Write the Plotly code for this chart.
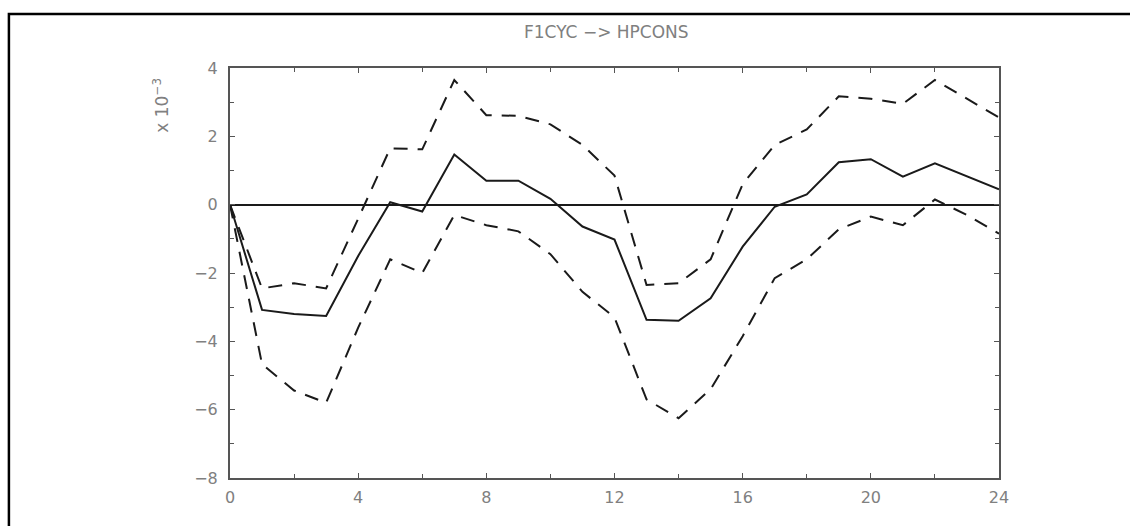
import plotly.graph_objects as go

# Impulse response horizon (periods)
horizon = list(range(25))

# Point estimate of the response, in units of 1e-3
response = [0.0, -3.08, -3.2, -3.26, -1.5, 0.07, -0.2, 1.47, 0.7, 0.7, 0.17,
            -0.64, -1.02, -3.37, -3.4, -2.74, -1.23, -0.06, 0.3, 1.24, 1.33,
            0.82, 1.21, 0.83, 0.45]

# Upper and lower confidence bands, in units of 1e-3
upper_band = [0.0, -2.45, -2.3, -2.45, -0.41, 1.65, 1.62, 3.65, 2.62, 2.6, 2.35,
              1.75, 0.85, -2.35, -2.3, -1.6, 0.6, 1.75, 2.2, 3.17, 3.1,
              2.95, 3.65, 3.1, 2.55]
lower_band = [0.0, -4.67, -5.44, -5.8, -3.6, -1.6, -2.0, -0.3, -0.6, -0.78, -1.45,
              -2.55, -3.3, -5.7, -6.25, -5.4, -3.85, -2.15, -1.6, -0.72, -0.35,
              -0.6, 0.15, -0.3, -0.85]

x_ticks = [0, 4, 8, 12, 16, 20, 24]
y_ticks = [-8, -6, -4, -2, 0, 2, 4]

title_text = "F1CYC −> HPCONS"
y_unit_text = "x 10<sup>−3</sup>"

fig = go.Figure()

dash_style = dict(color="#1a1a1a", width=2, dash="14px,10px")
fig.add_trace(go.Scatter(x=horizon, y=upper_band, mode="lines", line=dash_style,
                         showlegend=False, hoverinfo="skip"))
fig.add_trace(go.Scatter(x=horizon, y=lower_band, mode="lines", line=dash_style,
                         showlegend=False, hoverinfo="skip"))
fig.add_trace(go.Scatter(x=horizon, y=response, mode="lines",
                         line=dict(color="#1a1a1a", width=2),
                         showlegend=False, hoverinfo="skip"))

label_family = "DejaVu Sans, Liberation Sans, sans-serif"
tick_font = dict(family=label_family, size=16, color="#808080")

fig.update_xaxes(
    range=[0, 24], tickvals=x_ticks, ticktext=[str(v) for v in x_ticks],
    ticks="inside", ticklen=5, tickwidth=1, tickcolor="#555",
    minor=dict(dtick=2, tick0=0, ticks="inside", ticklen=4, tickcolor="#555"),
    showline=True, linecolor="#555", linewidth=2, mirror="allticks",
    showgrid=False, zeroline=False, tickfont=tick_font, ticklabelstandoff=4,
)
fig.update_yaxes(
    range=[-8, 4], tickvals=y_ticks,
    ticktext=[("−" + str(-v)) if v < 0 else str(v) for v in y_ticks],
    ticks="inside", ticklen=5, tickwidth=1, tickcolor="#555",
    minor=dict(dtick=1, tick0=0, ticks="inside", ticklen=4, tickcolor="#555"),
    showline=True, linecolor="#555", linewidth=2, mirror="allticks",
    showgrid=False, zeroline=True, zerolinecolor="#1a1a1a", zerolinewidth=2,
    tickfont=tick_font, ticklabelstandoff=7,
)

# Outer frame around the whole panel
fig.add_shape(type="rect", xref="paper", yref="paper",
              x0=-0.2875, x1=1.18, y0=-0.13, y1=1.1317,
              line=dict(color="black", width=2.5), fillcolor="rgba(0,0,0,0)", layer="above")

fig.add_annotation(text=title_text, xref="paper", yref="paper", x=0.49, y=1.087,
                   xanchor="center", yanchor="middle", showarrow=False,
                   font=dict(family=label_family, size=17, color="#808080"))
fig.add_annotation(text=y_unit_text, xref="paper", yref="paper", x=-0.09, y=0.91,
                   xanchor="center", yanchor="middle", showarrow=False, textangle=-90,
                   font=dict(family=label_family, size=17, color="#808080"))

fig.update_layout(
    width=1130, height=526,
    margin=dict(l=230, r=131, t=68, b=48),
    paper_bgcolor="white", plot_bgcolor="white",
)

fig.write_html("out.html")
